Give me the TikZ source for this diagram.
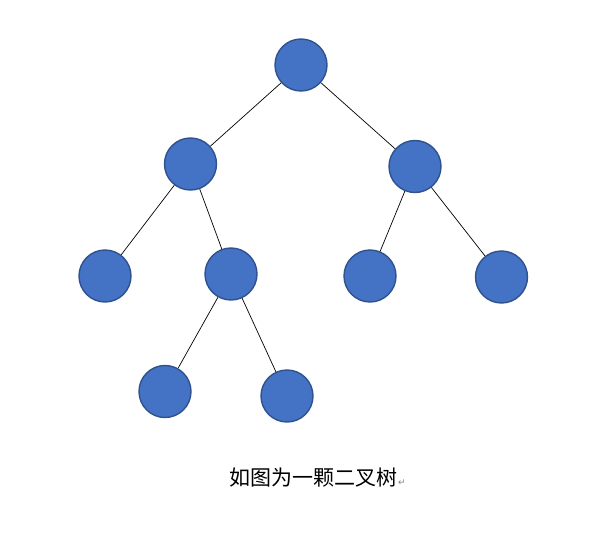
\documentclass[tikz,border=0pt]{standalone}
\usepackage{xcolor}
\usepackage{fontspec}
\usepackage{tikz}
\newfontfamily\cjk{Noto Sans CJK SC}
\newfontfamily\symfont{DejaVu Sans}
\definecolor{nodeblue}{HTML}{4472C4}
\definecolor{nodeedge}{HTML}{2F528F}

\begin{document}
\begin{tikzpicture}[x = 1pt, y = -1pt, treenode/.style = {circle, fill = nodeblue, draw = nodeedge, line width = 1.4pt, minimum size = 52pt, inner sep = 0}, branch/.style = {draw = black, line width = 0.7pt}]
	\useasboundingbox (0,0) rectangle (606,538);
	\node[treenode] (root) at (301,65) {};
	\node[treenode] (l) at (190.5,164) {};
	\node[treenode] (r) at (415,166.5) {};
	\node[treenode] (ll) at (105,276) {};
	\node[treenode] (lr) at (231,274) {};
	\node[treenode] (rl) at (370,276) {};
	\node[treenode] (rr) at (501.5,277) {};
	\node[treenode] (lrl) at (165,391.5) {};
	\node[treenode] (lrr) at (287,396) {};
	\draw[branch] (root) -- (l);
	\draw[branch] (root) -- (r);
	\draw[branch] (l) -- (ll);
	\draw[branch] (l) -- (lr);
	\draw[branch] (r) -- (rl);
	\draw[branch] (r) -- (rr);
	\draw[branch] (lr) -- (lrl);
	\draw[branch] (lr) -- (lrr);
	\node[anchor = west, inner sep = 0] (caption) at (229,478) {\fontsize{21}{24}\selectfont\cjk 如图为一颗二叉树\kern1pt{\fontsize{9}{10}\selectfont\symfont\color{gray}↵}};
\end{tikzpicture}
\end{document}
